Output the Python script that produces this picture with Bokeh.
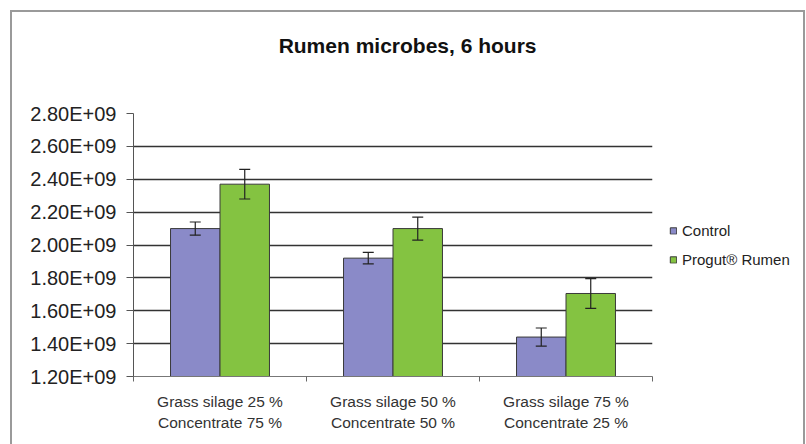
from bokeh.plotting import figure
from bokeh.models import (ColumnDataSource, Range1d, LinearAxis, FixedTicker, Grid,
                          Whisker, TeeHead, Legend, LegendItem)
from bokeh.embed import file_html
from bokeh.resources import INLINE

# ---- data ----
title_text = "Rumen microbes, 6 hours"
line1 = ["Grass silage 25 %", "Grass silage 50 %", "Grass silage 75 %"]
line2 = ["Concentrate 75 %", "Concentrate 50 %", "Concentrate 25 %"]
series = ["Control", "Progut\u00ae Rumen"]
control = [2.10e9, 1.92e9, 1.44e9]
control_err = [0.04e9, 0.035e9, 0.055e9]
progut = [2.37e9, 2.10e9, 1.705e9]
progut_err = [0.09e9, 0.07e9, 0.09e9]
y_ticks = [1.2e9, 1.4e9, 1.6e9, 1.8e9, 2.0e9, 2.2e9, 2.4e9, 2.6e9, 2.8e9]
y_tick_labels = ["1.20E+09", "1.40E+09", "1.60E+09", "1.80E+09", "2.00E+09",
                 "2.20E+09", "2.40E+09", "2.60E+09", "2.80E+09"]

FONT = "Liberation Sans"
C_CTRL = "#8A8AC8"
C_PROG = "#84C341"
EDGE = "#9a9a9a"

n = len(line1)
centers = [i + 0.5 for i in range(n)]
bw = 0.286
off = 0.143

src_c = ColumnDataSource(dict(x=[c - off for c in centers], top=control,
                              up=[v + e for v, e in zip(control, control_err)],
                              lo=[v - e for v, e in zip(control, control_err)]))
src_p = ColumnDataSource(dict(x=[c + off for c in centers], top=progut,
                              up=[v + e for v, e in zip(progut, progut_err)],
                              lo=[v - e for v, e in zip(progut, progut_err)]))

p = figure(frame_width=519, frame_height=263, output_backend="svg", toolbar_location=None,
           x_axis_type=None, y_axis_type=None,
           x_range=Range1d(0, n), y_range=Range1d(y_ticks[0], y_ticks[-1]),
           min_border_left=133, min_border_right=154, min_border_top=113,
           min_border_bottom=68)
p.outline_line_color = None
p.background_fill_color = "white"
p.border_fill_color = None
grad = f"linear-gradient({EDGE},{EDGE})"
p.styles = {"background": f"{grad} 10px 10px / 2px 434px no-repeat, "
                          f"{grad} 10px 10px / 795px 2px no-repeat, "
                          f"{grad} 803px 10px / 2px 434px no-repeat, #ffffff"}

# grid
p.add_layout(Grid(dimension=1, ticker=FixedTicker(ticks=y_ticks[1:]),
                  grid_line_color="#333333", grid_line_width=1.5))

r_c = p.vbar(x="x", top="top", bottom=0, width=bw, source=src_c,
             fill_color=C_CTRL, line_color="#3a3a3a", line_width=1)
r_p = p.vbar(x="x", top="top", bottom=0, width=bw, source=src_p,
             fill_color=C_PROG, line_color="#3a3a3a", line_width=1)

for s in (src_c, src_p):
    w = Whisker(base="x", upper="up", lower="lo", source=s, level="overlay",
                line_color="#222222", line_width=1.2,
                upper_head=TeeHead(size=11, line_color="#222222", line_width=1.2),
                lower_head=TeeHead(size=11, line_color="#222222", line_width=1.2))
    p.add_layout(w)

# y axis
yax = LinearAxis(ticker=FixedTicker(ticks=y_ticks),
                 major_label_overrides={t: l for t, l in zip(y_ticks, y_tick_labels)},
                 major_label_text_font=FONT, major_label_text_font_size="20px",
                 major_label_text_color="#222222", major_label_standoff=10,
                 major_tick_out=7, major_tick_in=0, minor_tick_line_color=None,
                 axis_line_color="#555555", major_tick_line_color="#555555")
p.add_layout(yax, "left")

# x axis (line 1 + boundary ticks)
xa = LinearAxis(ticker=FixedTicker(ticks=centers, minor_ticks=list(range(n + 1))),
                major_label_overrides={c: l for c, l in zip(centers, line1)},
                major_label_text_font=FONT, major_label_text_font_size="15.5px",
                major_label_text_color="#333333", major_label_standoff=11,
                major_tick_out=0, major_tick_in=0,
                minor_tick_out=5, minor_tick_in=0, minor_tick_line_color="#666666",
                axis_line_color="#777777")
p.add_layout(xa, "below")
xb = LinearAxis(ticker=FixedTicker(ticks=centers),
                major_label_overrides={c: l for c, l in zip(centers, line2)},
                major_label_text_font=FONT, major_label_text_font_size="15.5px",
                major_label_text_color="#333333", major_label_standoff=1,
                major_tick_out=0, major_tick_in=0, minor_tick_out=0,
                major_tick_line_color=None, minor_tick_line_color=None,
                axis_line_color=None)
p.add_layout(xb, "below")

# title (as label of an empty top axis)
tax = LinearAxis(ticker=FixedTicker(ticks=[]),
                 axis_label="\u00a0" * 5 + title_text, axis_label_standoff=57,
                 axis_label_text_font=FONT, axis_label_text_font_size="21px",
                 axis_label_text_font_style="bold", axis_label_text_color="#111111",
                 axis_line_color=None, major_tick_line_color=None,
                 minor_tick_line_color=None, major_tick_out=0, minor_tick_out=0,
                 major_label_text_font_size="0px")
p.add_layout(tax, "above")

# legend
leg = Legend(items=[LegendItem(label=series[0], renderers=[r_c]),
                    LegendItem(label=series[1], renderers=[r_p])],
             location="center_left", padding=0, margin=17, spacing=9,
             glyph_width=8, glyph_height=8, label_height=20, label_standoff=5,
             label_text_font=FONT, label_text_font_size="15px",
             label_text_color="#222222", border_line_color=None,
             background_fill_alpha=0)
p.add_layout(leg, "right")

open("out.html", "w").write(file_html(p, INLINE))
